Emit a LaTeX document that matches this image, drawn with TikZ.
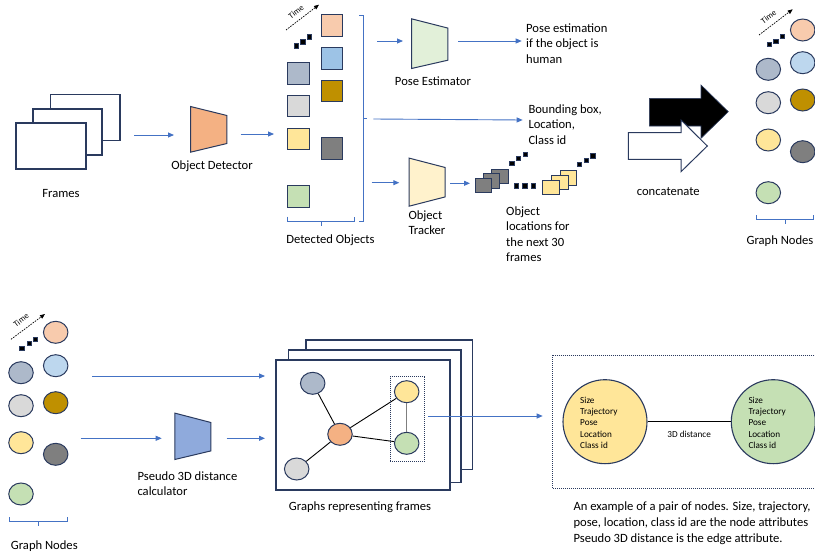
\documentclass[tikz,border=0pt]{standalone}
\usepackage{fontspec}
\setmainfont{Carlito}
\usetikzlibrary{arrows.meta,shapes.geometric,calc}
\definecolor{navy}{HTML}{2A3A5E}
\definecolor{ablue}{HTML}{4472C4}
\definecolor{cpeach}{HTML}{F8CBAD}
\definecolor{cltblue}{HTML}{9DC3E6}
\definecolor{cltblueb}{HTML}{BDD7EE}
\definecolor{cbgray}{HTML}{ADB9CA}
\definecolor{clgray}{HTML}{D9D9D9}
\definecolor{cyellow}{HTML}{FFE699}
\definecolor{cgold}{HTML}{BF9000}
\definecolor{cdgray}{HTML}{7F7F7F}
\definecolor{cgreen}{HTML}{C5E0B4}
\definecolor{corange}{HTML}{F4B183}
\definecolor{cpose}{HTML}{E2F0D9}
\definecolor{ctrack}{HTML}{FFF2CC}
\definecolor{cpseudo}{HTML}{8FAADC}
\newcommand{\mytrap}[4]{\draw[nv, fill=#4] (#1.north west) -- ($(#1.north east)+(0,#2)$) -- ($(#1.south east)+(0,-#3)$) -- (#1.south west) -- cycle;}
\newcommand{\mybrk}[4]{% x1 x2 y xm
  \draw[brk] (#1,#3-4.3) -- (#1,#3) -- (#2,#3) -- (#2,#3-4.3);
  \draw[brk] (#4,#3) -- (#4,#3+4.5);}
\begin{document}
\begin{tikzpicture}[x=1pt,y=-1pt,
  nv/.style={draw=navy, line width=1pt},
  barrow/.style={draw=ablue, line width=0.9pt, -{Triangle[length=6pt,width=5pt]}},
  brk/.style={draw=ablue, line width=0.8pt},
  frm/.style={rectangle, draw=navy, fill=white, line width=1.1pt, inner sep=0},
  tbox/.style={rectangle, inner sep=0},
  sq/.style={rectangle, draw=navy, line width=1pt, minimum size=21.5pt, inner sep=0},
  ssq/.style={rectangle, draw=navy, line width=0.9pt, minimum width=16.5pt, minimum height=14.5pt, inner sep=0},
  gn/.style={ellipse, draw=navy, line width=1pt, minimum width=24.5pt, minimum height=22pt, inner sep=0},
  lbl/.style={font=\fontsize{12.6}{15.5}\selectfont, inner sep=0, align=left},
  sml/.style={font=\fontsize{9.2}{11.3}\selectfont, inner sep=0, align=left},
  tml/.style={font=\fontsize{8.3}{9}\selectfont, inner sep=0},
  dt/.style={rectangle, fill=black, draw=navy, line width=0.3pt, minimum size=4.5pt, inner sep=0},
  tarr/.style={black, line width=0.7pt, dash pattern=on 1.6pt off 1.1pt, -{Triangle[length=5pt,width=4pt]}},
]
\useasboundingbox (0,0) rectangle (815,554);

% ---------- Frames ----------
\node[frm, minimum width=69.3pt, minimum height=46pt] (fr3) at (85.35,117.3) {};
\node[frm, minimum width=69pt, minimum height=46pt] (fr2) at (67.5,132) {};
\node[frm, minimum width=70pt, minimum height=46pt] (fr1) at (51,146) {};
\node[lbl, anchor=base] (frl) at (61,197) {Frames};

% ---------- Object detector ----------
\coordinate (a1s) at (134,135); \coordinate (a1e) at (174,135);
\draw[barrow] (a1s) -- (a1e);
\node[tbox, minimum width=36pt, minimum height=45.3pt] (det) at (208.7,129.35) {};
\mytrap{det}{9}{8.7}{corange}
\node[lbl, anchor=base] (detl) at (212,169) {Object Detector};
\coordinate (a2s) at (240.7,134); \coordinate (a2e) at (274,134);
\draw[barrow] (a2s) -- (a2e);

% ---------- Detected objects ----------
\draw[tarr] (286,30) -- (319,4.7);
\node[tml, rotate=37.5] (t1) at (296,11.8) {Time};
\node[dt] (d1a) at (296,45.7) {};
\node[dt] (d1b) at (302.7,41.7) {};
\node[dt] (d1c) at (309,36.7) {};
\node[sq, fill=cbgray] (o1) at (298.3,73.3) {};
\node[sq, fill=clgray] (o2) at (298.3,106.2) {};
\node[sq, fill=cyellow] (o3) at (298.3,138.8) {};
\node[sq, fill=cgreen] (o4) at (298.3,196.3) {};
\node[sq, fill=cpeach] (o5) at (332.2,25.5) {};
\node[sq, fill=cltblue] (o6) at (332.2,58.3) {};
\node[sq, fill=cgold] (o7) at (332.2,91.2) {};
\node[sq, fill=cdgray] (o8) at (332.2,148.3) {};
\mybrk{287}{354}{221}{321.7}
\node[lbl, anchor=base] (dol) at (330.5,243.3) {Detected Objects};
% vertical bracket
\draw[brk] (359.3,15) -- (363.3,15) -- (363.3,221) -- (359.3,221);
\draw[brk] (363.3,118.3) -- (367,118.3);

% ---------- Pose estimator ----------
\coordinate (p1s) at (377,41); \coordinate (p1e) at (403,41);
\draw[barrow] (p1s) -- (p1e);
\node[tbox, minimum width=36pt, minimum height=49.3pt] (po) at (429.7,43.65) {};
\mytrap{po}{9.3}{8.3}{cpose}
\node[lbl, anchor=base] (pol) at (433,85.7) {Pose Estimator};
\coordinate (p2s) at (458.3,41); \coordinate (p2e) at (521.7,41);
\draw[barrow] (p2s) -- (p2e);
\node[lbl, anchor=base west] (pet) at (526,63.3) {Pose estimation\\if the object is\\human};

% ---------- Bounding box ----------
\coordinate (b1s) at (373.3,119); \coordinate (b1e) at (522.7,120);
\draw[barrow] (b1s) -- (b1e);
\node[lbl, anchor=base west] (bbt) at (528.3,144.3) {Bounding box,\\Location,\\Class id};

% ---------- Object tracker ----------
\coordinate (t1s) at (371.7,182.7); \coordinate (t1e) at (399.3,182.7);
\draw[barrow] (t1s) -- (t1e);
\node[tbox, minimum width=35.7pt, minimum height=47.7pt] (tr) at (427.15,182.15) {};
\mytrap{tr}{9.4}{9.3}{ctrack}
\node[lbl, anchor=base west] (trl) at (408.3,234.5) {Object\\Tracker};
\coordinate (t2s) at (450,183.3); \coordinate (t2e) at (470,183.3);
\draw[barrow] (t2s) -- (t2e);
\node[ssq, fill=cdgray] (g3) at (500,176.2) {};
\node[ssq, fill=cdgray] (g2) at (491.6,180.7) {};
\node[ssq, fill=cdgray] (g1) at (483.3,185.3) {};
\node[dt] (e1) at (511.7,163.3) {};
\node[dt] (e2) at (518.3,158.3) {};
\node[dt] (e3) at (525,154.3) {};
\node[dt] (h1) at (516,185.7) {};
\node[dt] (h2) at (524.5,185.7) {};
\node[dt] (h3) at (533,185.7) {};
\node[ssq, fill=cyellow] (y3) at (568.3,178) {};
\node[ssq, fill=cyellow] (y2) at (559.7,182.6) {};
\node[ssq, fill=cyellow] (y1) at (551,187.2) {};
\node[dt] (f1) at (579.3,164.3) {};
\node[dt] (f2) at (586,160) {};
\node[dt] (f3) at (592.7,155.7) {};
\node[lbl, anchor=base west] (oll) at (506,261.5) {Object\\locations for\\the next 30\\frames};

% ---------- Concatenate arrows ----------
\draw[draw=navy, line width=0.6pt, fill=black] (649.3,98.3) -- (701,98.3) -- (701,85) -- (728.3,111.7) -- (701,138.3) -- (701,126) -- (649.3,126) -- cycle;
\draw[nv, fill=white] (628.3,132.7) -- (681,132.7) -- (681,120) -- (707.3,146) -- (681,171.7) -- (681,159.3) -- (628.3,159.3) -- cycle;
\node[lbl, anchor=base] (ccl) at (668.3,195.7) {concatenate};

% ---------- Graph nodes (top right) ----------
\draw[tarr] (759,35) -- (792.7,9.3);
\node[tml, rotate=37.5] (t2) at (768.5,16.8) {Time};
\node[dt] (k1) at (769,44.3) {};
\node[dt] (k2) at (775.7,41) {};
\node[dt] (k3) at (782.3,36) {};
\node[gn, fill=cbgray] (n1) at (768.3,69.3) {};
\node[gn, fill=clgray] (n2) at (768.3,102.7) {};
\node[gn, fill=cyellow] (n3) at (768.3,140) {};
\node[gn, fill=cgreen] (n4) at (768.3,192.7) {};
\node[gn, fill=cpeach] (n5) at (802.7,30) {};
\node[gn, fill=cltblueb] (n6) at (802.7,62.7) {};
\node[gn, fill=cgold] (n7) at (802.7,100) {};
\node[gn, fill=cdgray] (n8) at (802.7,151.7) {};
\mybrk{756}{813.3}{219.3}{785}
\node[lbl, anchor=base] (gnl1) at (780,244) {Graph Nodes};

% ---------- Graph nodes (bottom left) ----------
\draw[tarr] (11,339.3) -- (45,314);
\node[tml, rotate=37.5] (t3) at (21,320.2) {Time};
\node[dt] (m1) at (21.7,348.3) {};
\node[dt] (m2) at (29,343.3) {};
\node[dt] (m3) at (35,339.3) {};
\node[gn, fill=cbgray] (q1) at (21,372.7) {};
\node[gn, fill=clgray] (q2) at (21,405.7) {};
\node[gn, fill=cyellow] (q3) at (21,442.7) {};
\node[gn, fill=cgreen] (q4) at (21,494) {};
\node[gn, fill=cpeach] (q5) at (55.7,332.3) {};
\node[gn, fill=cltblueb] (q6) at (55.7,365.7) {};
\node[gn, fill=cgold] (q7) at (55.7,402.7) {};
\node[gn, fill=cdgray] (q8) at (55.7,454.3) {};
\mybrk{9}{67.7}{521.7}{38.3}
\node[lbl, anchor=base] (gnl2) at (44.3,549) {Graph Nodes};

% ---------- Pseudo 3D ----------
\coordinate (l1s) at (92.3,376); \coordinate (l1e) at (265,376);
\draw[barrow] (l1s) -- (l1e);
\coordinate (l2s) at (80.7,438.3); \coordinate (l2e) at (161.7,438.3);
\draw[barrow] (l2s) -- (l2e);
\node[tbox, minimum width=35.7pt, minimum height=46pt] (ps) at (192.85,436.3) {};
\mytrap{ps}{9.4}{8.6}{cpseudo}
\node[lbl, anchor=base west] (psl) at (137.3,495.5) {Pseudo 3D distance\\calculator};
\coordinate (l3s) at (226.7,438.3); \coordinate (l3e) at (265,438.3);
\draw[barrow] (l3s) -- (l3e);

% ---------- Graph frames ----------
\node[frm, minimum width=166.7pt, minimum height=129.3pt] (gf3) at (389.35,404.65) {};
\node[frm, minimum width=172.7pt, minimum height=132.3pt] (gf2) at (374.65,416.15) {};
\node[frm, minimum width=174pt, minimum height=130pt] (gf1) at (363,425) {};
\node[gn, fill=cbgray] (u1) at (312.7,383.3) {};
\node[gn, fill=corange] (u2) at (340,434.3) {};
\node[gn, fill=clgray] (u3) at (296.7,469) {};
\node[gn, fill=cyellow] (u4) at (406.7,391.7) {};
\node[gn, fill=cgreen] (u5) at (406.7,443.3) {};
\draw[black, line width=0.9pt] (u1) -- (u2);
\draw[black, line width=0.9pt] (u2) -- (u3);
\draw[black, line width=0.9pt] (u2) -- (u4);
\draw[black, line width=0.9pt] (u2) -- (u5);
\draw[cdgray, line width=1.2pt] (u4) -- (u5);
\node[tbox, draw=navy, line width=0.8pt, dash pattern=on 1pt off 1pt, minimum width=34pt, minimum height=85pt] (sel) at (407,419.2) {};
\node[lbl, anchor=base] (grl) at (360,510.7) {Graphs representing frames};
\coordinate (g4s) at (428.3,416); \coordinate (g4e) at (542.7,416);
\draw[barrow] (g4s) -- (g4e);

% ---------- Pair example ----------
\draw[navy, line width=0.8pt, dash pattern=on 1pt off 1pt] (552.3,355) rectangle (830,488.3);
\node[circle, draw=navy, line width=1.1pt, fill=cyellow, minimum size=84pt, inner sep=0] (pa) at (605,421.7) {};
\node[circle, draw=navy, line width=1.1pt, fill=cgreen, minimum size=84pt, inner sep=0] (pb) at (773.3,421.7) {};
\draw[black, line width=0.9pt] (pa) -- node[sml, below=9pt] (dl) {3D distance} (pb);
\node[sml, anchor=base west] (pat) at (580,448.5) {Size\\Trajectory\\Pose\\Location\\Class id};
\node[sml, anchor=base west] (pbt) at (748.3,448.5) {Size\\Trajectory\\Pose\\Location\\Class id};
\node[font=\fontsize{12.6}{15.8}\selectfont, inner sep=0, align=left, anchor=base west] (cap) at (573.3,542.3) {An example of a pair of nodes. Size, trajectory,\\pose, location, class id are the node attributes\\Pseudo 3D distance is the edge attribute.};
\end{tikzpicture}
\end{document}
